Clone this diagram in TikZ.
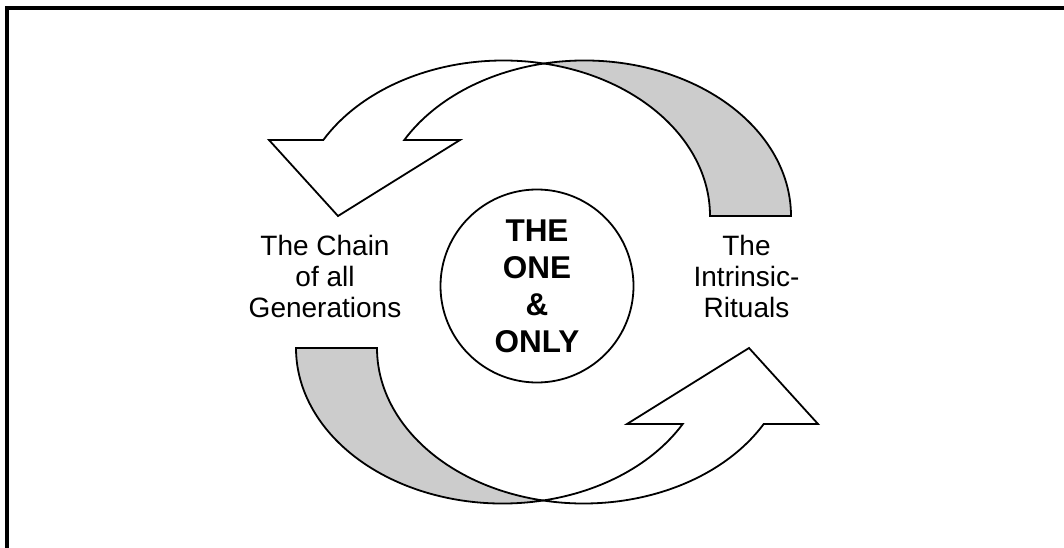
\documentclass[tikz,border=0pt]{standalone}
\usepackage{fontspec}
\setmainfont{Liberation Sans}
\tikzset{
  outl/.style={draw=black, line width=1.8pt, line join=miter},
  frontface/.style={outl, fill=white},
  backface/.style={outl, fill=black!20},
  lbl/.style={font=\fontsize{28}{31}\selectfont, align=center, inner sep=0pt, anchor=north},
  hub/.style={circle, draw=black, line width=1.8pt, fill=white, minimum size=193pt, inner sep=0pt,
              font=\bfseries\fontsize{31.5}{37}\selectfont, align=center},
  frameline/.style={draw=black, line width=4pt},
}
\newcommand\drawcurvearrow{%
  \path[backface] (544,483.5)
    arc[start angle=101.31, end angle=0, x radius=206.5, y radius=155.5]
    -- (710,331)
    arc[start angle=0, end angle=78.69, x radius=206.5, y radius=155.5]
    -- cycle;
  \path[frontface] (323.3,407)
    arc[start angle=150.74, end angle=78.69, x radius=206.5, y radius=155.5]
    arc[start angle=101.31, end angle=150.74, x radius=206.5, y radius=155.5]
    -- (460,407) -- (338,331) -- (269,407) -- cycle;
}
\begin{document}
\begin{tikzpicture}[x=1pt, y=1pt]
  \useasboundingbox (0,0) rectangle (1064,547);
  \clip (0,0) rectangle (1064,547);
  \fill[white] (0,0) rectangle (1064,547);
  % frame (cropped at right and bottom)
  \coordinate (fbl) at (7,-10);
  \coordinate (ftl) at (7,539);
  \coordinate (ftr) at (1074,539);
  \path[frameline] (fbl) -- (ftl) -- (ftr);
  % upper curved arrow
  \drawcurvearrow
  % lower curved arrow (point symmetric)
  \begin{scope}[rotate around={180:(543.5,265)}]
    \drawcurvearrow
  \end{scope}
  % centre
  \node[hub] (one) at (537,261) {THE\\ONE\\\&\\ONLY};
  % labels
  \node[lbl] (chain) at (325,312) {The Chain\\of all\\Generations};
  \node[lbl] (rituals) at (746.5,312) {The\\Intrinsic-\\Rituals};
\end{tikzpicture}
\end{document}
